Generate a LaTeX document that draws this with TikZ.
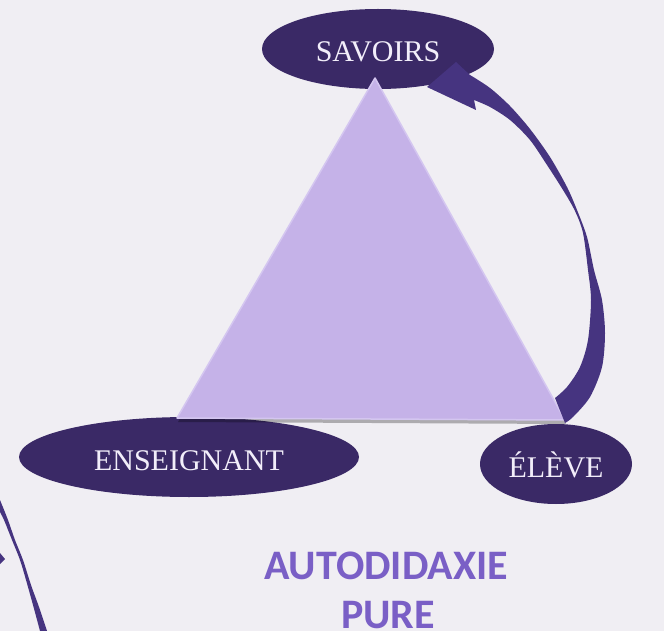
\documentclass[tikz,border=0pt]{standalone}
\usepackage{fontspec}
\setmainfont{Liberation Serif}
\newfontfamily\labelsans{Carlito}
\usetikzlibrary{shapes.geometric}
\definecolor{bgcol}{RGB}{240,238,243}
\definecolor{bubblefill}{RGB}{58,41,102}
\definecolor{bubbletext}{RGB}{242,238,250}
\definecolor{arrowfill}{RGB}{70,52,128}
\definecolor{trifill}{RGB}{197,178,232}
\definecolor{triedge}{RGB}{212,198,240}
\definecolor{titlecol}{RGB}{122,95,198}
\begin{document}
\begin{tikzpicture}[x=1pt,y=-1pt,
  bubble/.style={ellipse, fill=bubblefill, text=bubbletext, inner sep=0pt,
    font=\fontsize{30}{30}\selectfont, text height=26pt, text depth=0pt},
  curvefill/.style={fill=arrowfill},
  titletext/.style={text=titlecol, font=\labelsans\bfseries\fontsize{42}{48}\selectfont, inner sep=0pt, anchor=base}]
\fill[bgcol] (0,0) rectangle (664,631);
\useasboundingbox (0,0) rectangle (664,631);

% ellipses
\node[bubble, minimum width=232pt, minimum height=80pt] (sav) at (378,49) {SAVOIRS};
\node[bubble, minimum width=340pt, minimum height=80pt] (ens) at (189,457) {ENSEIGNANT};
\node[bubble, minimum width=152pt, minimum height=80pt] (elv) at (556,464) {ÉLÈVE};

% triangle with shadow
\coordinate (apex) at (375,78);
\coordinate (bl) at (177,418);
\coordinate (br) at (565,420);
\fill[black, opacity=0.28] ([shift={(1,4)}]apex) -- ([shift={(1,4)}]bl) -- ([shift={(1,4)}]br) -- cycle;
\filldraw[fill=trifill, draw=triedge, line width=1.5pt, line join=round] (apex) -- (bl) -- (br) -- cycle;

% curved arrow from ELEVE to SAVOIRS
\fill[curvefill] (470,75) -- (456,62) -- (427,87) -- (476,110) -- (474,100)
 -- plot[smooth, tension=0.5] coordinates {(474,100) (490,107) (510,120) (530,140) (547,165) (563,190) (575,211) (583,233) (588,270) (591,300) (588,340) (580,367) (567,387) (555,398)}
 -- (565,423)
 -- plot[smooth, tension=0.5] coordinates {(565,423) (573,417) (590,397) (602,367) (605,333) (602,300) (594,270) (587,237) (577,210) (567,187) (550,157) (530,129) (510,106) (490,88) (470,75)}
 -- cycle;

% partial curved arrow at bottom left
\fill[curvefill] (0,500)
 -- plot[smooth, tension=0.55] coordinates {(0,500) (8,520) (15,540) (23,560) (31,585) (39,607) (47,631)}
 -- (40,631)
 -- plot[smooth, tension=0.55] coordinates {(40,631) (33,605) (26,580) (20,560) (12,540) (4,520) (0,512)}
 -- cycle;
\fill[curvefill] (0,553) -- (5,559) -- (0,564) -- cycle;

% title
\node[titletext] (t1) at (386,579) {AUTODIDAXIE};
\node[titletext] (t2) at (388,628) {PURE};
\end{tikzpicture}
\end{document}
